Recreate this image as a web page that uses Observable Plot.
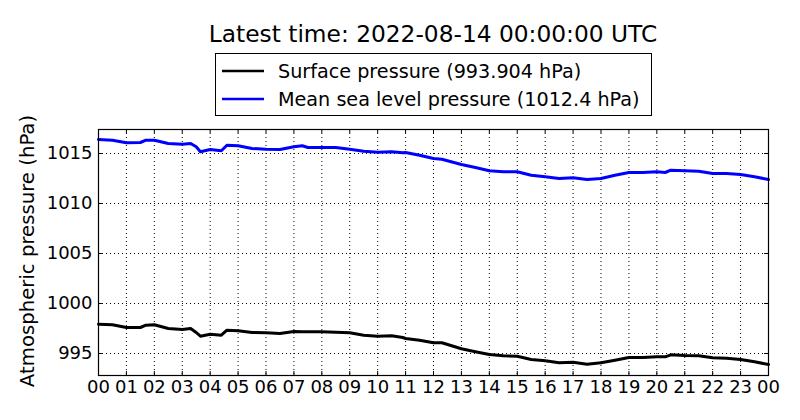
<!DOCTYPE html>
<html>
<head>
<meta charset="utf-8">
<script src="https://cdn.jsdelivr.net/npm/d3@7"></script>
<script src="https://cdn.jsdelivr.net/npm/@observablehq/plot@0.6"></script>
<style>
  html, body { margin: 0; padding: 0; background: #fff; }
  body { width: 800px; height: 420px; position: relative; font-family: "DejaVu Sans", sans-serif; overflow: hidden; }
  #title { position: absolute; left: 0; width: 866px; top: 18px; text-align: center; font-size: 23.3px; color: #000; line-height: 32px; z-index: 2; }
  #legend { position: absolute; left: 215px; top: 53px; width: 437px; height: 63px; border: 1px solid #000; box-sizing: border-box; font-size: 19.2px; z-index: 2; background: #fff; }
  .row { position: absolute; left: 6px; height: 24px; display: flex; align-items: center; white-space: nowrap; }
  .row svg { margin-right: 14px; }
  #chart { position: absolute; left: 0; top: 100px; width: 800px; z-index: 1; }
</style>
</head>
<body>
<div id="title"></div>
<div id="legend"></div>
<div id="chart"></div>
<script>
const titleText = "Latest time: 2022-08-14 00:00:00 UTC";
const seriesNames = ["Surface pressure (993.904 hPa)", "Mean sea level pressure (1012.4 hPa)"];
const seriesColors = ["#000000", "#0000ff"];
const yLabel = "Atmospheric pressure (hPa)";

// hours since 2022-08-13 00:00 UTC
const hours = [0, 0.5, 1, 1.5, 1.7, 2, 2.5, 3, 3.3, 3.5, 3.65, 4, 4.4, 4.6, 5, 5.5, 6, 6.5, 7, 7.3, 7.5, 8, 8.5, 9, 9.5, 10, 10.5, 10.9,
  11, 11.5, 12, 12.3, 13, 13.5, 14, 14.5, 15, 15.5, 16, 16.5, 17, 17.5, 18, 18.5, 19, 19.5, 20, 20.3, 20.5, 21, 21.5, 22, 22.5, 23, 23.5, 24];
const surface = [997.93, 997.87, 997.6, 997.6, 997.83, 997.87, 997.5, 997.4, 997.5, 997.1, 996.73, 996.93, 996.83, 997.33, 997.27, 997.1, 997.07, 997.0, 997.2, 997.17, 997.17, 997.17, 997.13, 997.07, 996.83, 996.73, 996.77, 996.6,
  996.5, 996.33, 996.07, 996.07, 995.47, 995.17, 994.9, 994.77, 994.73, 994.4, 994.27, 994.07, 994.13, 993.93, 994.07, 994.33, 994.6, 994.6, 994.67, 994.67, 994.87, 994.8, 994.77, 994.57, 994.53, 994.4, 994.17, 993.9];
const msl = [1016.4, 1016.33, 1016.07, 1016.1, 1016.33, 1016.33, 1016.0, 1015.93, 1016.0, 1015.67, 1015.17, 1015.4, 1015.27, 1015.83, 1015.77, 1015.5, 1015.43, 1015.4, 1015.67, 1015.77, 1015.6, 1015.6, 1015.6, 1015.43, 1015.23, 1015.13, 1015.17, 1015.07,
  1015.1, 1014.83, 1014.5, 1014.43, 1013.9, 1013.6, 1013.27, 1013.17, 1013.17, 1012.83, 1012.67, 1012.5, 1012.57, 1012.4, 1012.5, 1012.83, 1013.1, 1013.1, 1013.17, 1013.1, 1013.33, 1013.27, 1013.23, 1013.0, 1013.0, 1012.9, 1012.67, 1012.4];
const xTicks = d3.range(0, 25);
const xTickLabels = xTicks.map(h => String(h % 24).padStart(2, "0"));
const yTicks = [995, 1000, 1005, 1010, 1015];
const yDomain = [992.8, 1017.4];
const xDomain = [0, 24];

document.getElementById("title").textContent = titleText;
const legend = document.getElementById("legend");
seriesNames.forEach((name, i) => {
  const row = document.createElement("div");
  row.className = "row";
  row.style.top = (i === 0 ? 5 : 33) + "px";
  row.innerHTML = `<svg width="42" height="6"><line x1="0" x2="42" y1="3" y2="3" stroke="${seriesColors[i]}" stroke-width="2.5"/></svg><span>${name}</span>`;
  legend.appendChild(row);
});

const data = [];
hours.forEach((h, i) => {
  data.push({hour: h, value: surface[i], series: seriesNames[0]});
  data.push({hour: h, value: msl[i], series: seriesNames[1]});
});

const tickLenY = 0.4;   // hPa
const tickLenX = 0.14;  // hours

const chart = Plot.plot({
  width: 800,
  height: 320,
  marginTop: 29,
  marginBottom: 45,
  marginLeft: 98,
  marginRight: 32,
  style: {fontFamily: "DejaVu Sans, sans-serif", fontSize: "18px", color: "#000", background: "transparent", maxWidth: "none"},
  x: {domain: xDomain, ticks: xTicks, tickFormat: (d, i) => xTickLabels[i], label: null},
  y: {domain: yDomain, ticks: yTicks, tickFormat: d3.format("d"), label: null},
  marks: [
    Plot.gridX(xTicks, {stroke: "#000", strokeOpacity: 1, strokeWidth: 1, strokeDasharray: "1,3"}),
    Plot.gridY(yTicks, {stroke: "#000", strokeOpacity: 1, strokeWidth: 1, strokeDasharray: "1,3"}),
    Plot.ruleX(xTicks, {x: d => d, y1: yDomain[0], y2: yDomain[0] + tickLenY, stroke: "#000"}),
    Plot.ruleX(xTicks, {x: d => d, y1: yDomain[1], y2: yDomain[1] - tickLenY, stroke: "#000"}),
    Plot.ruleY(yTicks, {y: d => d, x1: xDomain[0], x2: xDomain[0] + tickLenX, stroke: "#000"}),
    Plot.ruleY(yTicks, {y: d => d, x1: xDomain[1], x2: xDomain[1] - tickLenX, stroke: "#000"}),
    Plot.line(data, {x: "hour", y: "value", z: "series", stroke: d => d.series === seriesNames[0] ? seriesColors[0] : seriesColors[1], strokeWidth: 3}),
    Plot.axisX({ticks: xTicks, tickFormat: (d, i) => xTickLabels[i], tickSize: 0, tickPadding: 5, fontSize: 18, label: null}),
    Plot.axisY({ticks: yTicks, tickFormat: d3.format("d"), tickSize: 0, tickPadding: 6, fontSize: 18, label: null}),
    Plot.frame({stroke: "#000", strokeWidth: 1.2})
  ]
});
document.getElementById("chart").appendChild(chart);

// rotated y-axis label
const svg = d3.select(chart);
svg.append("text")
  .attr("transform", "translate(34, 151) rotate(-90)")
  .attr("text-anchor", "middle")
  .attr("font-size", 19.7)
  .attr("font-family", "DejaVu Sans, sans-serif")
  .attr("fill", "#000")
  .text(yLabel);
</script>
</body>
</html>
